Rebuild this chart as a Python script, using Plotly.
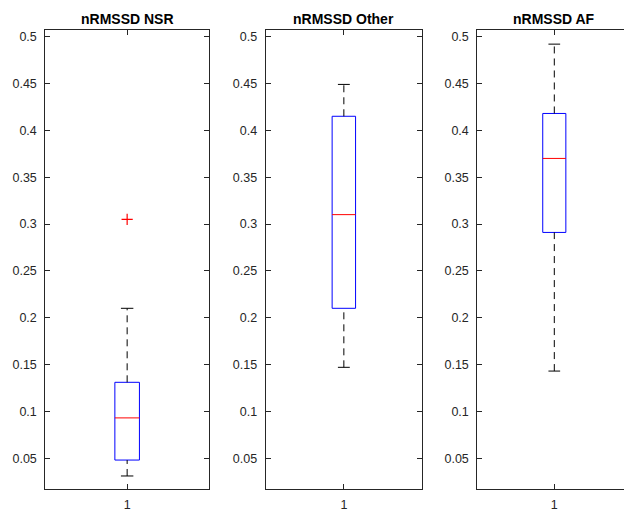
import plotly.graph_objects as go

# ---- data ----
titles = ["nRMSSD NSR", "nRMSSD Other", "nRMSSD AF"]
lower_whisker = [0.031, 0.147, 0.143]
q1 = [0.048, 0.210, 0.291]
median = [0.093, 0.310, 0.370]
q3 = [0.131, 0.415, 0.418]
upper_whisker = [0.210, 0.449, 0.492]
outliers = [[0.305], [], []]
x_categories = ["1"]
y_ticks = [0.05, 0.1, 0.15, 0.2, 0.25, 0.3, 0.35, 0.4, 0.45, 0.5]
y_ticktext = ["0.05", "0.1", "0.15", "0.2", "0.25", "0.3", "0.35", "0.4", "0.45", "0.5"]

W, H = 624, 512
domains = [[45.3 / W, 209.0 / W], [265.7 / W, 422.0 / W], [477.3 / W, 1.0]]
x_ranges = [[0.5, 1.5], [0.5, 1.5], [0.5, 0.5 + (624 - 477.3) / 154.0]]
y_range = [0.0171, 0.5071]

AX = "#262626"
FONT = "Liberation Sans, Arial, Helvetica, sans-serif"
BOX_HW = 0.075
CAP_HW = 0.038

fig = go.Figure()
layout = dict(
    width=W, height=H, autosize=False,
    margin=dict(l=0, r=0, t=30, b=20, pad=0),
    paper_bgcolor="white", plot_bgcolor="white",
    showlegend=False,
    font=dict(family=FONT, size=12.5, color=AX),
    annotations=[],
)

for i in range(3):
    xa = "x" if i == 0 else f"x{i+1}"
    ya = "y" if i == 0 else f"y{i+1}"
    c = 1.0
    # box
    fig.add_trace(go.Scatter(
        x=[c - BOX_HW, c + BOX_HW, c + BOX_HW, c - BOX_HW, c - BOX_HW],
        y=[q1[i], q1[i], q3[i], q3[i], q1[i]],
        mode="lines", line=dict(color="#0000ff", width=1),
        xaxis=xa, yaxis=ya, hoverinfo="skip"))
    # whiskers (dashed)
    for a, b in [(q3[i], upper_whisker[i]), (lower_whisker[i], q1[i])]:
        fig.add_trace(go.Scatter(
            x=[c, c], y=[a, b], mode="lines",
            line=dict(color="black", width=1, dash="7px,5px"),
            xaxis=xa, yaxis=ya, hoverinfo="skip"))
    # caps
    for v in [upper_whisker[i], lower_whisker[i]]:
        fig.add_trace(go.Scatter(
            x=[c - CAP_HW, c + CAP_HW], y=[v, v], mode="lines",
            line=dict(color="black", width=1),
            xaxis=xa, yaxis=ya, hoverinfo="skip"))
    # median
    fig.add_trace(go.Scatter(
        x=[c - BOX_HW, c + BOX_HW], y=[median[i], median[i]], mode="lines",
        line=dict(color="#ff0000", width=1),
        xaxis=xa, yaxis=ya, hoverinfo="skip"))
    # outliers
    if outliers[i]:
        fig.add_trace(go.Scatter(
            x=[c] * len(outliers[i]), y=outliers[i], mode="markers",
            marker=dict(symbol="cross-thin", size=8,
                        line=dict(color="#ff0000", width=1.2)),
            xaxis=xa, yaxis=ya, hoverinfo="skip"))

    xkey = "xaxis" if i == 0 else f"xaxis{i+1}"
    ykey = "yaxis" if i == 0 else f"yaxis{i+1}"
    layout[xkey] = dict(
        domain=domains[i], range=x_ranges[i], anchor=ya,
        tickvals=[1.0], ticktext=x_categories,
        showgrid=False, zeroline=False,
        showline=True, linecolor=AX, linewidth=1, mirror="ticks",
        ticks="inside", ticklen=5, tickwidth=1, tickcolor=AX,
        ticklabelstandoff=4,
        tickfont=dict(family=FONT, size=12.5, color=AX),
        fixedrange=True,
    )
    layout[ykey] = dict(
        domain=[0, 1], range=y_range, anchor=xa,
        tickvals=y_ticks, ticktext=y_ticktext,
        showgrid=False, zeroline=False,
        showline=True, linecolor=AX, linewidth=1,
        mirror=("ticks" if i < 2 else False),
        ticks="inside", ticklen=5, tickwidth=1, tickcolor=AX,
        ticklabelstandoff=5,
        tickfont=dict(family=FONT, size=12.5, color=AX),
        fixedrange=True,
    )
    xc = (domains[i][0] + domains[i][1]) / 2 if i < 2 else (477.3 + 77.0) / W
    layout["annotations"].append(dict(
        text=f"<b>{titles[i]}</b>", x=xc, y=1, xref="paper", yref="paper",
        xanchor="center", yanchor="bottom", yshift=1, showarrow=False,
        font=dict(family=FONT, size=14, color="black"),
    ))

fig.update_layout(**layout)
fig.write_html("out.html", config={"displayModeBar": False})
